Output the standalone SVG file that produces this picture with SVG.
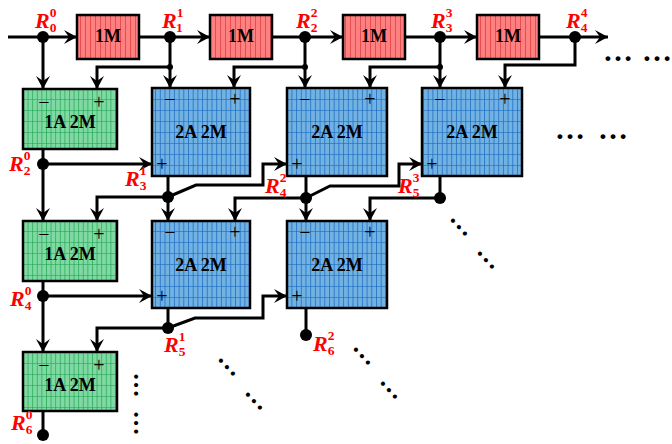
<svg xmlns="http://www.w3.org/2000/svg" width="672" height="444" viewBox="0 0 672 444">
<defs>
<style>
.bx{stroke:#000;stroke-width:2.5}
.bt{font-family:"Liberation Serif",serif;font-weight:bold;font-size:18px;fill:#000;text-anchor:middle}
.sg{font-family:"Liberation Serif",serif;font-size:20px;fill:#000;text-anchor:middle}
.c{fill:none;stroke:#000;stroke-width:3;stroke-linejoin:miter}
.a{marker-end:url(#ah)}
.R{font-family:"Liberation Serif",serif;font-weight:bold;font-style:italic;font-size:22px;fill:#ff0000}
.s{font-style:normal;font-size:13.5px}
.d{font-family:"Liberation Serif",serif;font-weight:bold;fill:#000;text-anchor:middle}
</style>
<pattern id="pr" patternUnits="userSpaceOnUse" width="5" height="12">
<rect width="5" height="12" fill="#ff8080"/>
<line x1="0.5" y1="0" x2="0.5" y2="12" stroke="#e04040" stroke-width="0.8"/>
</pattern>
<pattern id="pg" patternUnits="userSpaceOnUse" width="4.6" height="11">
<rect width="4.6" height="11" fill="#80d9a2"/>
<line x1="0.5" y1="0" x2="0.5" y2="11" stroke="#28a85a" stroke-width="0.8"/>
<line x1="0" y1="0.5" x2="4.6" y2="0.5" stroke="#28a85a" stroke-width="0.6"/>
</pattern>
<pattern id="pb" patternUnits="userSpaceOnUse" width="4.7" height="11">
<rect width="4.7" height="11" fill="#72b2e3"/>
<line x1="0.5" y1="0" x2="0.5" y2="11" stroke="#1c6cc0" stroke-width="0.8"/>
<line x1="0" y1="0.5" x2="4.7" y2="0.5" stroke="#1c6cc0" stroke-width="0.6"/>
</pattern>
<marker id="ah" markerUnits="userSpaceOnUse" markerWidth="16" markerHeight="16" viewBox="-14 -8 16 16" refX="0" refY="0" orient="auto">
<path d="M0,0 L-13,-7 L-8,0 L-13,7 Z" fill="#000"/>
</marker>
</defs>
<rect width="672" height="444" fill="#fff"/>

<g id="boxes">
<g id="m1"><rect class="bx" x="77" y="15" width="62" height="44" fill="url(#pr)"/><text class="bt" x="108" y="42">1M</text></g>
<g id="m2"><rect class="bx" x="210" y="15" width="62" height="44" fill="url(#pr)"/><text class="bt" x="241" y="42">1M</text></g>
<g id="m3"><rect class="bx" x="343" y="15" width="62" height="44" fill="url(#pr)"/><text class="bt" x="374" y="42">1M</text></g>
<g id="m4"><rect class="bx" x="477" y="15" width="62" height="44" fill="url(#pr)"/><text class="bt" x="508" y="42">1M</text></g>

<g id="g1"><rect class="bx" x="23" y="89" width="94" height="60" fill="url(#pg)"/><text class="sg" x="44" y="109">−</text><text class="sg" x="99" y="109">+</text><text class="bt" x="70" y="128">1A 2M</text></g>
<g id="g2"><rect class="bx" x="23" y="221" width="94" height="60" fill="url(#pg)"/><text class="sg" x="44" y="241">−</text><text class="sg" x="99" y="241">+</text><text class="bt" x="70" y="260">1A 2M</text></g>
<g id="g3"><rect class="bx" x="23" y="352" width="94" height="59" fill="url(#pg)"/><text class="sg" x="44" y="372">−</text><text class="sg" x="99" y="372">+</text><text class="bt" x="70" y="391">1A 2M</text></g>

<g id="b11"><rect class="bx" x="152" y="88" width="98" height="88" fill="url(#pb)"/><text class="sg" x="170" y="106">−</text><text class="sg" x="235" y="106">+</text><text class="sg" x="162" y="171">+</text><text class="bt" x="201" y="138">2A 2M</text></g>
<g id="b12"><rect class="bx" x="287" y="88" width="100" height="88" fill="url(#pb)"/><text class="sg" x="305" y="106">−</text><text class="sg" x="370" y="106">+</text><text class="sg" x="297" y="171">+</text><text class="bt" x="337" y="138">2A 2M</text></g>
<g id="b13"><rect class="bx" x="422" y="88" width="100" height="88" fill="url(#pb)"/><text class="sg" x="440" y="106">−</text><text class="sg" x="505" y="106">+</text><text class="sg" x="432" y="171">+</text><text class="bt" x="472" y="138">2A 2M</text></g>
<g id="b21"><rect class="bx" x="152" y="221" width="98" height="87" fill="url(#pb)"/><text class="sg" x="170" y="239">−</text><text class="sg" x="235" y="239">+</text><text class="sg" x="162" y="303">+</text><text class="bt" x="201" y="271">2A 2M</text></g>
<g id="b22"><rect class="bx" x="287" y="221" width="100" height="87" fill="url(#pb)"/><text class="sg" x="305" y="239">−</text><text class="sg" x="370" y="239">+</text><text class="sg" x="297" y="303">+</text><text class="bt" x="337" y="271">2A 2M</text></g>
</g>

<g id="connectors">
<path class="c a" d="M8,37 H77"/>
<path class="c a" d="M139,37 H210"/>
<path class="c a" d="M272,37 H343"/>
<path class="c a" d="M405,37 H477"/>
<path class="c a" d="M539,37 H608"/>

<path class="c a" d="M43,37 V89"/>
<path class="c a" d="M170,37 V88"/>
<path class="c a" d="M170,67 H97 V89"/>
<path class="c a" d="M305,37 V88"/>
<path class="c a" d="M305,67 H234 V88"/>
<path class="c a" d="M440,37 V88"/>
<path class="c a" d="M440,67 H370 V88"/>
<path class="c a" d="M575,37 V65 H505 V88"/>

<path class="c a" d="M43,149 V221"/>
<path class="c a" d="M43,164 H152"/>
<path class="c a" d="M168,176 V221"/>
<path class="c a" d="M168,197 H97 V221"/>
<path class="c a" d="M168,197 L196,185 H263 V164 H287"/>
<path class="c a" d="M306,176 V221"/>
<path class="c a" d="M306,198 H235 V221"/>
<path class="c a" d="M306,198 L330,186 H399 V164 H422"/>
<path class="c" d="M440,176 V198"/>
<path class="c a" d="M440,198 H370 V221"/>

<path class="c a" d="M43,281 V352"/>
<path class="c a" d="M43,296 H152"/>
<path class="c" d="M168,308 V328"/>
<path class="c a" d="M168,328 H97 V352"/>
<path class="c a" d="M168,328 L195,318 H263 V296 H287"/>
<path class="c" d="M306,308 V335"/>
<path class="c" d="M43,411 V435"/>

<g fill="#000">
<circle cx="43" cy="37" r="6"/><circle cx="170" cy="37" r="6"/><circle cx="305" cy="37" r="6"/><circle cx="440" cy="37" r="6"/><circle cx="575" cy="37" r="6"/>
<circle cx="170" cy="67" r="3"/><circle cx="305" cy="67" r="3"/><circle cx="440" cy="67" r="3"/>
<circle cx="43" cy="164" r="6"/><circle cx="168" cy="197" r="6"/><circle cx="306" cy="198" r="6"/><circle cx="440" cy="198" r="6"/>
<circle cx="43" cy="296" r="6"/><circle cx="168" cy="328" r="6"/><circle cx="306" cy="335" r="6"/><circle cx="43" cy="435" r="6"/>
</g>
</g>

<g id="labels">
<text class="R" x="35" y="28">R<tspan class="s" dy="-11.5">0</tspan><tspan class="s" dx="-6.8" dy="15.5">0</tspan></text>
<text class="R" x="162" y="28">R<tspan class="s" dy="-11.5">1</tspan><tspan class="s" dx="-6.8" dy="15.5">1</tspan></text>
<text class="R" x="296" y="28">R<tspan class="s" dy="-11.5">2</tspan><tspan class="s" dx="-6.8" dy="15.5">2</tspan></text>
<text class="R" x="431" y="28">R<tspan class="s" dy="-11.5">3</tspan><tspan class="s" dx="-6.8" dy="15.5">3</tspan></text>
<text class="R" x="566" y="28">R<tspan class="s" dy="-11.5">4</tspan><tspan class="s" dx="-6.8" dy="15.5">4</tspan></text>
<text class="R" x="9" y="171">R<tspan class="s" dy="-11.5">0</tspan><tspan class="s" dx="-6.8" dy="15.5">2</tspan></text>
<text class="R" x="125" y="186">R<tspan class="s" dy="-11.5">1</tspan><tspan class="s" dx="-6.8" dy="15.5">3</tspan></text>
<text class="R" x="265" y="193">R<tspan class="s" dy="-11.5">2</tspan><tspan class="s" dx="-6.8" dy="15.5">4</tspan></text>
<text class="R" x="398" y="193">R<tspan class="s" dy="-11.5">3</tspan><tspan class="s" dx="-6.8" dy="15.5">5</tspan></text>
<text class="R" x="10" y="306">R<tspan class="s" dy="-11.5">0</tspan><tspan class="s" dx="-6.8" dy="15.5">4</tspan></text>
<text class="R" x="164" y="352">R<tspan class="s" dy="-11.5">1</tspan><tspan class="s" dx="-6.8" dy="15.5">5</tspan></text>
<text class="R" x="313" y="351">R<tspan class="s" dy="-11.5">2</tspan><tspan class="s" dx="-6.8" dy="15.5">6</tspan></text>
<text class="R" x="11" y="430">R<tspan class="s" dy="-11.5">0</tspan><tspan class="s" dx="-6.8" dy="15.5">6</tspan></text>
</g>

<g id="ellipses">
<text class="d" font-size="30" x="618" y="61">…</text>
<text class="d" font-size="30" x="657" y="61">…</text>
<text class="d" font-size="30" x="570" y="139">…</text>
<text class="d" font-size="30" x="613" y="139">…</text>
<text class="d" font-size="25" transform="translate(136,385) rotate(90)" x="0" y="2">…</text>
<text class="d" font-size="25" transform="translate(136,423) rotate(90)" x="0" y="2">…</text>
<text class="d" font-size="26" transform="translate(459,227) rotate(47)" x="0" y="2">…</text>
<text class="d" font-size="26" transform="translate(486,260) rotate(47)" x="0" y="2">…</text>
<text class="d" font-size="26" transform="translate(227,367) rotate(47)" x="0" y="2">…</text>
<text class="d" font-size="26" transform="translate(254,401) rotate(47)" x="0" y="2">…</text>
<text class="d" font-size="26" transform="translate(362,356) rotate(47)" x="0" y="2">…</text>
<text class="d" font-size="26" transform="translate(389,390) rotate(47)" x="0" y="2">…</text>
</g>
</svg>
